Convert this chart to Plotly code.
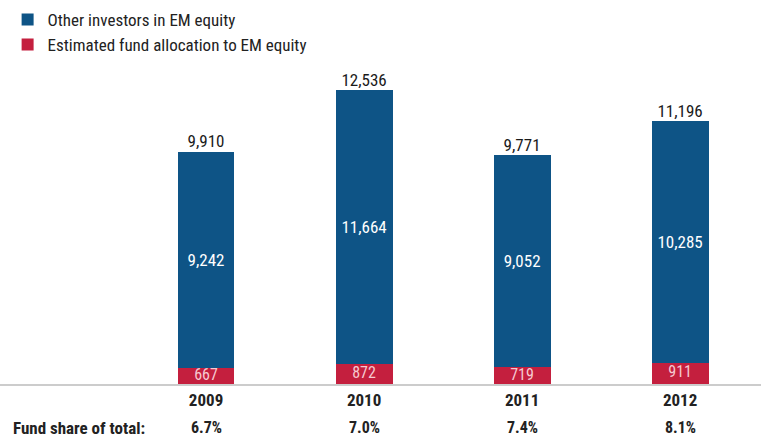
import plotly.graph_objects as go

years = ["2009", "2010", "2011", "2012"]
other_investors = [9242, 11664, 9052, 10285]
fund_allocation = [667, 872, 719, 911]
totals = [9910, 12536, 9771, 11196]
fund_share = ["6.7%", "7.0%", "7.4%", "8.1%"]

FONT = "Liberation Sans Narrow, Roboto Condensed, Arial Narrow, sans-serif"
BLUE = "#0e5486"
RED = "#c41f3e"

x = list(range(len(years)))

fig = go.Figure()
fig.add_trace(go.Bar(
    x=x, y=fund_allocation, name="Estimated fund allocation to EM equity",
    marker=dict(color=RED, line=dict(width=0)), width=0.36,
))
fig.add_trace(go.Bar(
    x=x, y=other_investors, name="Other investors in EM equity",
    marker=dict(color=BLUE, line=dict(width=0)), width=0.36,
    text=[f"{v:,}" for v in other_investors], textposition="inside",
    insidetextanchor="middle", textangle=0,
    textfont=dict(color="white", size=17, family=FONT),
))
fig.add_trace(go.Scatter(
    x=x, y=[v / 2 for v in fund_allocation], mode="text",
    text=[f"{v:,}" for v in fund_allocation],
    textposition="middle center", showlegend=False, hoverinfo="skip",
    textfont=dict(color="#f6c9d1", size=16, family=FONT),
))
fig.add_trace(go.Scatter(
    x=x, y=totals, mode="text", text=[f"{v:,}" for v in totals],
    textposition="top center", showlegend=False, hoverinfo="skip",
    textfont=dict(color="#1a1a1a", size=17, family=FONT),
))

fig.add_annotation(x=0.015, xref="paper", y=-0.114, yref="paper", xanchor="left",
                   yanchor="middle", text="<b>Fund share of total:</b>", showarrow=False,
                   font=dict(size=17, color="#222", family=FONT))
for i, s in enumerate(fund_share):
    fig.add_annotation(x=i, xref="x", y=-0.114, yref="paper", yanchor="middle",
                       text=f"<b>{s}</b>", showarrow=False,
                       font=dict(size=16, color="#222", family=FONT))

fig.update_layout(
    width=761, height=437,
    margin=dict(l=0, r=0, t=0, b=53),
    barmode="stack",
    plot_bgcolor="white", paper_bgcolor="white",
    font=dict(family=FONT, color="#222"),
    legend=dict(x=0.01, y=0.995, xanchor="left", yanchor="top",
                traceorder="reversed", font=dict(size=17, color="#222", family=FONT),
                bgcolor="rgba(0,0,0,0)", itemwidth=30, tracegroupgap=0),
    xaxis=dict(range=[-1.304, 3.512], tickvals=x,
               ticktext=[f"<b>{y}</b>" for y in years],
               tickfont=dict(size=17, color="#222", family=FONT),
               showline=True, linecolor="#cccccc", linewidth=2,
               showgrid=False, zeroline=False, ticks=""),
    yaxis=dict(range=[0, 16375], visible=False, showgrid=False),
)

fig.write_html("out.html")
